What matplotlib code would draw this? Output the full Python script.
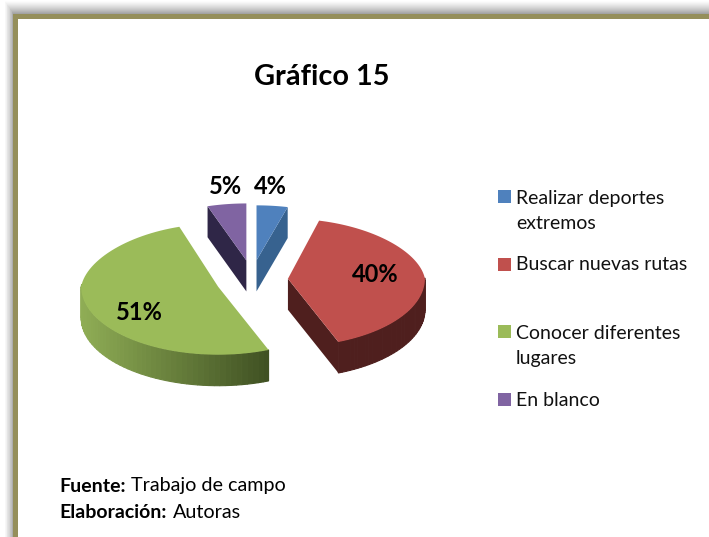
import numpy as np
import matplotlib
matplotlib.use('Agg')
import matplotlib.pyplot as plt
from matplotlib.patches import Polygon, Rectangle
from matplotlib.colors import to_rgb

plt.rcParams['font.family'] = ['Lato', 'DejaVu Sans']

# datos del grafico
labels = ['Realizar deportes\nextremos', 'Buscar nuevas rutas', 'Conocer diferentes\nlugares', 'En blanco']
values = [4, 40, 51, 5]
colors = ['#4F81BD', '#C0504D', '#9BBB59', '#8064A2']
wall_left = ['#37628F', '#4F1F1E', '#8FAD55', '#2F2647']
wall_right = ['#37628F', '#4F1F1E', '#3F5022', '#2F2647']
legend_y = [211, 265, 346, 400]

# geometria de la tarta en pixeles
cx, cy = 252, 280
explode = 36
depth = 31
back_h = [55, 60, 63, 57]


def project(theta, back):
    # perspectiva simple: el fondo mas estrecho y aplastado que el frente
    c = np.cos(theta)
    s = np.sin(theta)
    x = s * (137 - 12 * np.maximum(c, 0))
    y = -c * np.where(c > 0, back, 68)
    return x, y


fig = plt.figure(figsize=(7.09, 5.37), dpi=100)
ax = fig.add_axes([0, 0, 1, 1])
ax.set_xlim(0, 709)
ax.set_ylim(537, 0)
ax.axis('off')

# marco con sombra
for i in range(14):
    g = 1 - 0.36 * (i / 13) ** 1.3
    ax.add_patch(Rectangle((4 + i * 9 / 13, i), 709, 537, fc=(g, g, g), ec='none', zorder=1))
ax.add_patch(Rectangle((13, 14), 700, 530, fc='#958F5B', ec='none', zorder=2))
ax.add_patch(Rectangle((18, 19), 700, 530, fc='white', ec='none', zorder=3))

# tarta
order = [3, 0, 2, 1]
start = np.cumsum([0] + values[:-1]) / sum(values) * 2 * np.pi
sweep = np.array(values) / sum(values) * 2 * np.pi
for i in order:
    t0, t1 = start[i], start[i] + sweep[i]
    mid = (t0 + t1) / 2
    ox = cx + explode * np.sin(mid)
    oy = cy - explode * 0.55 * np.cos(mid)
    t = np.linspace(t0, t1, 80)
    x, y = project(t, back_h[i])
    x = x + ox
    y = y + oy
    z = 10 + order.index(i)

    # cara de corte visible
    if i in (0, 1):
        ex, ey = x[-1], y[-1]
    elif i == 3:
        ex, ey = x[0], y[0]
    if i != 2:
        ax.add_patch(Polygon([(ox, oy), (ex, ey), (ex, ey + depth), (ox, oy + depth)],
                             fc=wall_left[i], ec='none', zorder=z))

    # pared exterior (solo la parte frontal)
    a = to_rgb(wall_left[i])
    b = to_rgb(wall_right[i])
    xmin, xmax = x.min(), x.max()
    for j in range(len(t) - 1):
        if np.cos((t[j] + t[j + 1]) / 2) > 0.02:
            continue
        f = ((x[j] + x[j + 1]) / 2 - xmin) / max(xmax - xmin, 1)
        col = tuple(a[k] + (b[k] - a[k]) * f for k in range(3))
        ax.add_patch(Polygon([(x[j], y[j]), (x[j + 1], y[j + 1]),
                              (x[j + 1], y[j + 1] + depth), (x[j], y[j] + depth)],
                             fc=col, ec=col, lw=0.8, zorder=z))

    # cara superior
    ax.add_patch(Polygon(np.r_[[[ox, oy]], np.c_[x, y]], fc=colors[i], ec='none', zorder=z + 0.5))

# etiquetas de porcentaje
pct_pos = [(270, 186), (375, 275), (139, 312), (226, 186)]
for v, (px, py) in zip(values, pct_pos):
    ax.text(px, py, f'{v}%', fontsize=17, fontweight='bold', ha='center', va='center', color='black', zorder=30)

# titulo
ax.text(321.5, 77, 'Gráfico 15', fontsize=20.8, fontweight='bold', ha='center', va='center', zorder=30)

# leyenda
for lab, col, ly in zip(labels, colors, legend_y):
    first = ly - 15 if '\n' in lab else ly - 1
    ax.add_patch(Rectangle((498, first - 6), 13, 13, fc=col, ec='none', zorder=30))
    ax.text(516, ly, lab, fontsize=14, va='center', ha='left', linespacing=1.6, color='#111111', zorder=30)

# fuente
ax.text(59, 486, 'Fuente:', fontsize=14, fontweight='bold', va='center', zorder=30)
ax.text(131, 486, 'Trabajo de campo', fontsize=14.2, va='center', zorder=30)
ax.text(59, 513, 'Elaboración:', fontsize=14, fontweight='bold', va='center', zorder=30)
ax.text(173, 513, 'Autoras', fontsize=14.2, va='center', zorder=30)

fig.savefig('out.png', dpi=100)
